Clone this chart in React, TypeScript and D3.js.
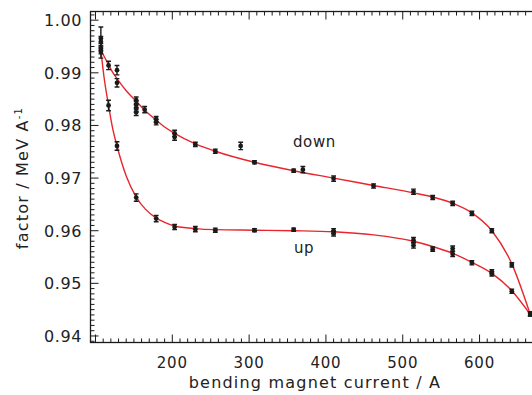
import * as d3 from "d3";
import { useEffect, useRef } from "react";

// measured points: bending magnet current (A), factor (MeV/A), error
const downCurrent = [107, 107, 117, 128, 128, 153, 153, 153, 153, 164, 179, 179, 203, 203, 230, 256, 289, 307, 358, 370, 410, 462, 514, 539, 565, 590, 616, 642, 666];
const downFactor = [0.9965, 0.9946, 0.9914, 0.9905, 0.9881, 0.9848, 0.984, 0.9833, 0.9825, 0.983, 0.9812, 0.9806, 0.9785, 0.9778, 0.9764, 0.9751, 0.9761, 0.973, 0.9714, 0.9716, 0.9699, 0.9685, 0.9674, 0.9663, 0.9652, 0.9633, 0.96, 0.9535, 0.9442];
const downError = [0.0022, 0.001, 0.0008, 0.0009, 0.0008, 0.0006, 0.0006, 0.0006, 0.0006, 0.0006, 0.0005, 0.0005, 0.0006, 0.0006, 0.0004, 0.0004, 0.0007, 0.0003, 0.0003, 0.0006, 0.0005, 0.0004, 0.0005, 0.0004, 0.0004, 0.0004, 0.0004, 0.0004, 0.0004];

const upCurrent = [107, 107, 117, 128, 153, 179, 203, 230, 256, 307, 358, 410, 410, 514, 514, 539, 565, 565, 590, 616, 616, 642, 666];
const upFactor = [0.9959, 0.994, 0.9838, 0.9761, 0.9663, 0.9623, 0.9607, 0.9603, 0.9601, 0.9601, 0.9602, 0.9599, 0.9595, 0.9582, 0.9572, 0.9565, 0.9566, 0.9556, 0.9539, 0.9522, 0.9518, 0.9485, 0.9442];
const upError = [0.001, 0.0012, 0.001, 0.0008, 0.0007, 0.0006, 0.0005, 0.0005, 0.0004, 0.0003, 0.0003, 0.0005, 0.0005, 0.0005, 0.0005, 0.0004, 0.0005, 0.0005, 0.0004, 0.0004, 0.0004, 0.0004, 0.0004];

// fitted curves
const fitCurrent = [107, 111, 117, 122, 128, 140, 153, 165, 179, 190, 203, 230, 256, 307, 358, 410, 462, 514, 539, 565, 590, 616, 642, 666];
const fitDown = [0.9943, 0.9932, 0.9915, 0.9902, 0.9889, 0.9866, 0.9846, 0.9828, 0.981, 0.9797, 0.9785, 0.9765, 0.9751, 0.973, 0.9714, 0.97, 0.9686, 0.9672, 0.9664, 0.9652, 0.9634, 0.96, 0.9537, 0.9441];
const fitUp = [0.9943, 0.9893, 0.9838, 0.9797, 0.9761, 0.9704, 0.9664, 0.9641, 0.9624, 0.9616, 0.9609, 0.9604, 0.9602, 0.9601, 0.96, 0.9598, 0.9592, 0.958, 0.957, 0.9557, 0.954, 0.9519, 0.9486, 0.9441];

const xTicks = [200, 300, 400, 500, 600];
const yTicks = [0.94, 0.95, 0.96, 0.97, 0.98, 0.99, 1.0];

const font = "'DejaVu Sans', sans-serif";

export default function App() {
  const ref = useRef<SVGSVGElement | null>(null);

  useEffect(() => {
    if (!ref.current) return;
    const svg = d3.select(ref.current);
    svg.selectAll("*").remove();

    const left = 90.5, right = 541, top = 11.5, bottom = 342.5;
    const x = d3.scaleLinear().domain([93.5, 680]).range([left, right]);
    const y = d3.scaleLinear().domain([0.93876, 1.00165]).range([bottom, top]);

    const ink = "#1a1a1a";
    const red = "#e8262c";

    svg.append("defs").append("clipPath").attr("id", "plot")
      .append("rect").attr("x", left).attr("y", top)
      .attr("width", right - left).attr("height", bottom - top);

    // ticks, drawn inward
    const xMinor = d3.range(100, 680, 10).filter((v) => x(v) > left + 1);
    const yMinor = d3.range(939, 1002, 1).map((v) => v / 1000);

    const tickG = svg.append("g").attr("stroke", ink).attr("stroke-width", 1);
    xMinor.forEach((v) => {
      const major = v % 100 === 0;
      const len = major ? 8 : 4;
      tickG.append("line").attr("x1", x(v)).attr("x2", x(v)).attr("y1", bottom).attr("y2", bottom - len);
      tickG.append("line").attr("x1", x(v)).attr("x2", x(v)).attr("y1", top).attr("y2", top + len);
    });
    yMinor.forEach((v) => {
      const major = Math.round(v * 1000) % 10 === 0;
      const len = major ? 8 : 4;
      tickG.append("line").attr("x1", left).attr("x2", left + len).attr("y1", y(v)).attr("y2", y(v));
    });

    svg.append("rect")
      .attr("x", left).attr("y", top)
      .attr("width", right - left).attr("height", bottom - top)
      .attr("fill", "none").attr("stroke", ink).attr("stroke-width", 1.3);

    // tick labels
    svg.append("g").selectAll("text").data(yTicks).enter().append("text")
      .attr("x", 82).attr("y", (d) => y(d) + 6)
      .attr("text-anchor", "end")
      .style("font-family", font).style("font-size", "16px").style("letter-spacing", "0.6px")
      .attr("fill", "#222")
      .text((d) => d.toFixed(2));

    svg.append("g").selectAll("text").data(xTicks).enter().append("text")
      .attr("x", (d) => x(d)).attr("y", 368)
      .attr("text-anchor", "middle")
      .style("font-family", font).style("font-size", "15px").style("letter-spacing", "0.8px")
      .attr("fill", "#222")
      .text((d) => d);

    svg.append("text")
      .attr("x", 315).attr("y", 388)
      .attr("text-anchor", "middle")
      .style("font-family", font).style("font-size", "16px").style("letter-spacing", "1.2px")
      .attr("fill", "#222")
      .text("bending magnet current / A");

    const yTitle = svg.append("text")
      .attr("transform", "translate(28,178) rotate(-90)")
      .attr("text-anchor", "middle")
      .style("font-family", font).style("font-size", "16px").style("letter-spacing", "1.2px")
      .attr("fill", "#222");
    yTitle.append("tspan").text("factor / MeV A");
    yTitle.append("tspan").attr("dy", -6).style("font-size", "10px").text("-1");

    // fit curves
    const plot = svg.append("g").attr("clip-path", "url(#plot)");
    const line = d3.line<[number, number]>()
      .x((d) => x(d[0])).y((d) => y(d[1]))
      .curve(d3.curveMonotoneX);
    [fitDown, fitUp].forEach((vals) => {
      plot.append("path")
        .datum(fitCurrent.map((c, i) => [c, vals[i]] as [number, number]))
        .attr("d", line)
        .attr("fill", "none").attr("stroke", red).attr("stroke-width", 1.4);
    });

    // points with error bars
    const pts = [
      ...downCurrent.map((c, i) => ({ c, v: downFactor[i], e: downError[i] })),
      ...upCurrent.map((c, i) => ({ c, v: upFactor[i], e: upError[i] })),
    ];
    const pg = plot.append("g").attr("stroke", ink).attr("fill", ink);
    pts.forEach((p) => {
      const px = x(p.c);
      const y0 = y(p.v + p.e), y1 = y(p.v - p.e);
      pg.append("line").attr("x1", px).attr("x2", px).attr("y1", y0).attr("y2", y1).attr("stroke-width", 1.4);
      pg.append("line").attr("x1", px - 2.4).attr("x2", px + 2.4).attr("y1", y0).attr("y2", y0).attr("stroke-width", 1.4);
      pg.append("line").attr("x1", px - 2.4).attr("x2", px + 2.4).attr("y1", y1).attr("y2", y1).attr("stroke-width", 1.4);
      pg.append("circle").attr("cx", px).attr("cy", y(p.v)).attr("r", 2.4).attr("stroke", "none");
    });

    // series labels
    svg.append("text").attr("x", 293).attr("y", 147)
      .style("font-family", font).style("font-size", "15px").style("letter-spacing", "0.6px")
      .attr("fill", "#222").text("down");
    svg.append("text").attr("x", 294).attr("y", 253)
      .style("font-family", font).style("font-size", "15px").style("letter-spacing", "0.6px")
      .attr("fill", "#222").text("up");
  }, []);

  return (
    <svg
      ref={ref}
      width={532}
      height={395}
      style={{ position: "absolute", left: 0, top: 0, background: "#fff" }}
    />
  );
}
